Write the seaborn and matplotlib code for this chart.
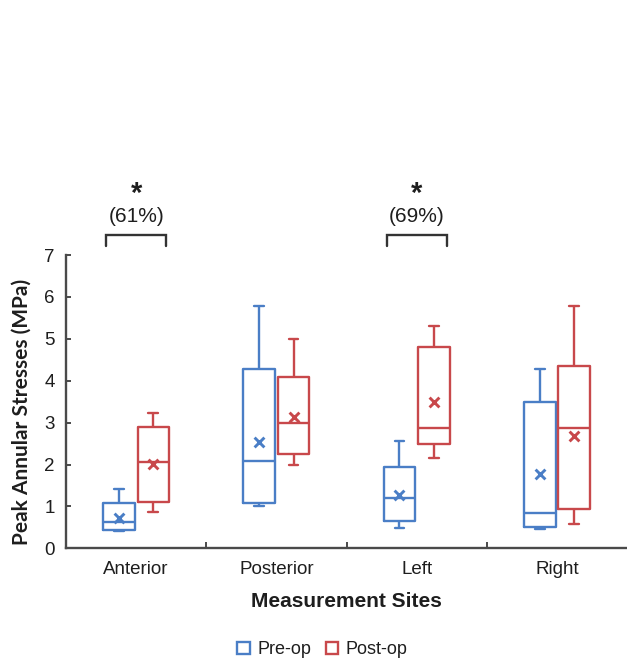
import numpy as np
import pandas as pd
import matplotlib
matplotlib.use("Agg")
import matplotlib.pyplot as plt
from matplotlib.patches import Patch
import seaborn as sns

# Five-number summaries (MPa) per measurement site
sites = ["Anterior", "Posterior", "Left", "Right"]
groups = ["Pre-op", "Post-op"]

pre_min = [0.42, 1.01, 0.48, 0.45]
pre_q1 = [0.44, 1.07, 0.66, 0.50]
pre_med = [0.635, 2.09, 1.19, 0.85]
pre_q3 = [1.07, 4.27, 1.93, 3.48]
pre_max = [1.415, 5.78, 2.56, 4.28]
pre_mean = [0.73, 2.54, 1.27, 1.77]

post_min = [0.87, 1.99, 2.15, 0.57]
post_q1 = [1.11, 2.25, 2.49, 0.93]
post_med = [2.07, 2.98, 2.86, 2.86]
post_q3 = [2.90, 4.08, 4.81, 4.35]
post_max = [3.22, 5.00, 5.31, 5.78]
post_mean = [2.01, 3.14, 3.50, 2.68]

# Significant changes annotated above the sites
sig_sites = ["Anterior", "Left"]
sig_labels = ["(61%)", "(69%)"]

colors = {"Pre-op": "#4A7EC6", "Post-op": "#C8484B"}
axis_color = "#4A4A4A"
text_color = "#1E1E1E"

summaries = {
    "Pre-op": (pre_min, pre_q1, pre_med, pre_q3, pre_max),
    "Post-op": (post_min, post_q1, post_med, post_q3, post_max),
}
means = {"Pre-op": pre_mean, "Post-op": post_mean}

rows = []
for g in groups:
    cols = summaries[g]
    for i, s in enumerate(sites):
        for arr in cols:
            rows.append({"Site": s, "Group": g, "Stress": arr[i]})
df = pd.DataFrame(rows)

sns.set_theme(style="white")
plt.rcParams["font.family"] = ["Liberation Sans", "DejaVu Sans"]

fig = plt.figure(figsize=(6.27, 6.59), dpi=100)
ax = fig.add_axes([0.1053, 0.168, 0.8947, 0.445])

box_width = 0.49
sns.boxplot(
    data=df, x="Site", y="Stress", hue="Group", order=sites, hue_order=groups,
    palette=colors, fill=False, width=box_width, gap=0.08, whis=1.5,
    linewidth=1.7, showfliers=False, legend=False, capwidths=0.07, ax=ax,
)

# Means shown as crosses at the dodged box positions
offsets = {"Pre-op": -box_width / 4, "Post-op": box_width / 4}
for g in groups:
    xs = np.arange(len(sites)) + offsets[g]
    ax.scatter(xs, means[g], marker="x", s=50, linewidths=2.1,
               color=colors[g], zorder=5)

ax.set_xlim(-0.5, len(sites) - 0.5)
ax.set_ylim(0, 7)
ax.set_yticks(range(0, 8))

ax.set_xticks(range(len(sites)))
ax.set_xticklabels(sites)
ax.set_xticks(np.arange(0.5, len(sites) - 0.5, 1.0), minor=True)
ax.tick_params(axis="x", which="major", length=0, pad=9,
               labelsize=13.5, labelcolor=text_color)
ax.tick_params(axis="x", which="minor", direction="in", length=4,
               width=1.4, color=axis_color, bottom=True)
ax.tick_params(axis="y", direction="in", length=3.6, width=1.4,
               color=axis_color, pad=8, labelsize=13.5, labelcolor=text_color,
               left=True)

for side in ("top", "right"):
    ax.spines[side].set_visible(False)
for side in ("left", "bottom"):
    ax.spines[side].set_color(axis_color)
    ax.spines[side].set_linewidth(1.7)

ax.set_xlabel("Measurement Sites", fontsize=15, fontweight="bold",
              color=text_color, labelpad=10)
ax.set_ylabel("")
fig.text(21.7 / 627, 1 - 412 / 659, "Peak Annular Stresses (MPa)",
         rotation=90, ha="center", va="center", fontsize=15,
         fontweight="bold", color=text_color, family=["Lato", "DejaVu Sans"])

# Significance brackets
half = 0.214
for s, lab in zip(sig_sites, sig_labels):
    i = sites.index(s)
    ax.plot([i - half, i - half, i + half, i + half], [7.21, 7.48, 7.48, 7.21],
            color="#333333", lw=1.7, clip_on=False, solid_joinstyle="miter")
    ax.text(i, 7.92, lab, ha="center", va="center", fontsize=15,
            color=text_color, clip_on=False)
    ax.text(i, 8.45, "*", ha="center", va="center", fontsize=21,
            fontweight="bold", color=text_color, clip_on=False)

handles = [Patch(facecolor="white", edgecolor=colors[g], linewidth=1.7, label=g)
           for g in groups]
fig.legend(handles=handles, loc="center", bbox_to_anchor=(0.514, 0.0137),
           ncol=2, frameon=False, fontsize=13, handlelength=0.7,
           handleheight=0.7, handletextpad=0.4, columnspacing=0.8,
           labelcolor=text_color)

fig.savefig("out.png", dpi=100)
